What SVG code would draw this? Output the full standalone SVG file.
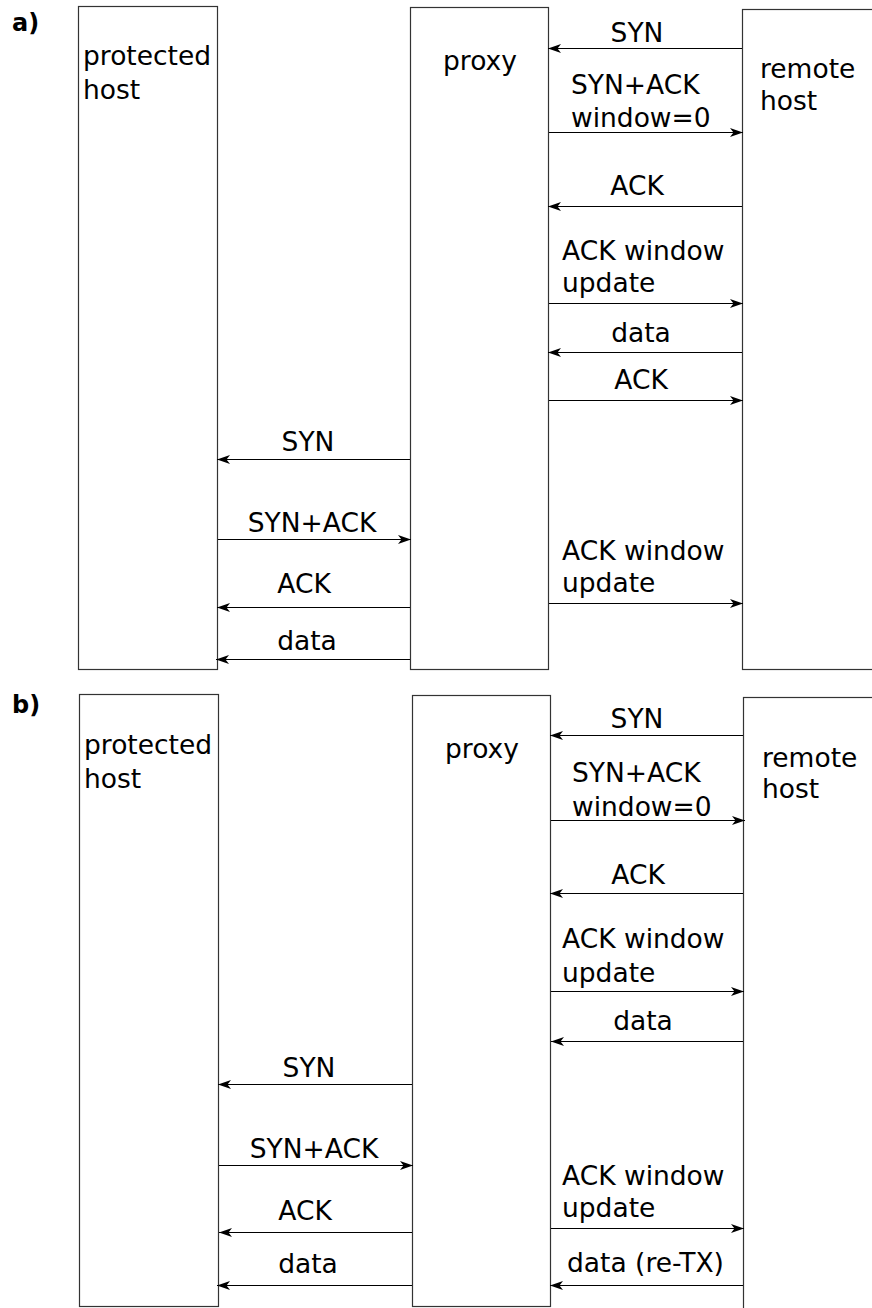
<svg xmlns="http://www.w3.org/2000/svg" width="872" height="1308" viewBox="0 0 872 1308">
<style>
.box{fill:#fff;stroke:#333;stroke-width:1.2}
.t{font-family:"DejaVu Sans",sans-serif;font-size:26.5px;fill:#000}
.c{text-anchor:middle}
.lbl{font-family:"DejaVu Sans",sans-serif;font-size:24px;font-weight:bold;fill:#000}
.m{stroke:#000;stroke-width:1.1;fill:none;marker-end:url(#ah)}
</style>
<defs>
<marker id="ah" markerUnits="userSpaceOnUse" markerWidth="15" markerHeight="10" refX="13" refY="4.5" orient="auto" viewBox="0 0 15 10">
<path d="M0,0 L13,4.5 L0,9 L3.5,4.5 Z" fill="#000"/>
</marker>
</defs>
<rect width="872" height="1308" fill="#fff"/>
<text class="lbl" x="12" y="31">a)</text>
<text class="lbl" x="12" y="713">b)</text>
<g id="a-protected">
<rect class="box" x="78.5" y="6.5" width="139" height="663"/>
<text class="t" x="83" y="65">protected</text>
<text class="t" x="83" y="99">host</text>
</g>
<g id="a-proxy">
<rect class="box" x="410.5" y="7.5" width="138" height="662"/>
<text class="t" x="443" y="70">proxy</text>
</g>
<g id="a-remote">
<rect class="box" x="742.5" y="9.5" width="140" height="660"/>
<text class="t" x="760" y="78">remote</text>
<text class="t" x="760" y="110">host</text>
</g>
<g id="b-protected">
<rect class="box" x="79.5" y="694.5" width="139" height="612"/>
<text class="t" x="84" y="754">protected</text>
<text class="t" x="84" y="788">host</text>
</g>
<g id="b-proxy">
<rect class="box" x="412.5" y="695.5" width="138" height="611"/>
<text class="t" x="445" y="758">proxy</text>
</g>
<g id="b-remote">
<rect class="box" x="743.5" y="697.5" width="140" height="620"/>
<text class="t" x="762" y="767">remote</text>
<text class="t" x="762" y="798">host</text>
</g>
<g id="connectors">
<path class="m" d="M742,48.5 H548"/>
<path class="m" d="M549,132.5 H743"/>
<path class="m" d="M742,206.5 H548"/>
<path class="m" d="M549,303.5 H743"/>
<path class="m" d="M742,352.5 H548"/>
<path class="m" d="M549,400.5 H743"/>
<path class="m" d="M410,459.5 H217"/>
<path class="m" d="M218,539.5 H411"/>
<path class="m" d="M549,603.5 H743"/>
<path class="m" d="M410,607.5 H217"/>
<path class="m" d="M410,659.5 H216"/>
<path class="m" d="M743,735.5 H550"/>
<path class="m" d="M551,820.5 H745"/>
<path class="m" d="M743,893.5 H550"/>
<path class="m" d="M551,991.5 H744"/>
<path class="m" d="M743,1041.5 H551"/>
<path class="m" d="M412,1084.5 H218"/>
<path class="m" d="M219,1165.5 H413"/>
<path class="m" d="M551,1228.5 H744"/>
<path class="m" d="M412,1232.5 H219"/>
<path class="m" d="M412,1285.5 H217"/>
<path class="m" d="M743,1285.5 H550"/>
</g>
<g id="labels">
<text class="t c" x="637" y="42">SYN</text>
<text class="t" x="571" y="94">SYN+ACK</text>
<text class="t" x="571" y="127">window=0</text>
<text class="t c" x="637" y="195">ACK</text>
<text class="t" x="562" y="260">ACK window</text>
<text class="t" x="562" y="292">update</text>
<text class="t c" x="641" y="342">data</text>
<text class="t c" x="641" y="389">ACK</text>
<text class="t c" x="308" y="451">SYN</text>
<text class="t c" x="312" y="532">SYN+ACK</text>
<text class="t" x="562" y="560">ACK window</text>
<text class="t" x="562" y="592">update</text>
<text class="t c" x="304" y="593">ACK</text>
<text class="t c" x="307" y="650">data</text>
<text class="t c" x="637" y="728">SYN</text>
<text class="t" x="572" y="782">SYN+ACK</text>
<text class="t" x="572" y="816">window=0</text>
<text class="t c" x="638" y="884">ACK</text>
<text class="t" x="562" y="948">ACK window</text>
<text class="t" x="562" y="982">update</text>
<text class="t c" x="643" y="1030">data</text>
<text class="t c" x="309" y="1077">SYN</text>
<text class="t c" x="314" y="1158">SYN+ACK</text>
<text class="t" x="562" y="1185">ACK window</text>
<text class="t" x="562" y="1217">update</text>
<text class="t c" x="305" y="1220">ACK</text>
<text class="t c" x="308" y="1273">data</text>
<text class="t" x="567" y="1272">data (re-TX)</text>
</g>
</svg>
